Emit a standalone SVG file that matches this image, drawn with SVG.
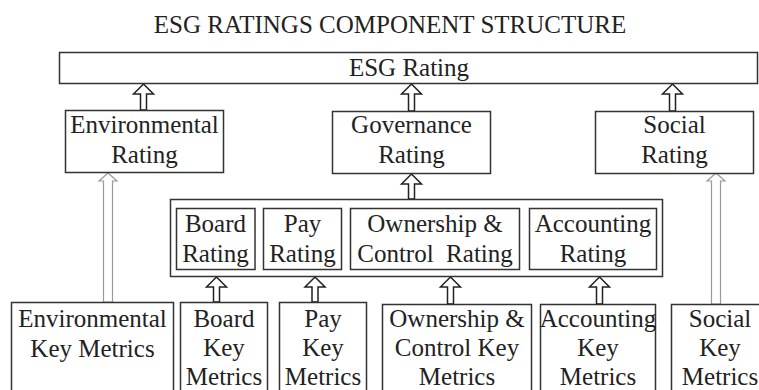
<svg xmlns="http://www.w3.org/2000/svg" width="759" height="390" viewBox="0 0 759 390">
<style>
text{font-family:"Liberation Serif","Times New Roman",serif;font-size:25px;fill:#222;text-anchor:middle}
.box{fill:#fff;stroke:#333;stroke-width:1.5}
.arr{fill:#fff;stroke:#222;stroke-width:1.5;stroke-linejoin:miter}
.larr{fill:#fff;stroke:#999;stroke-width:1.2}
</style>
<rect width="759" height="390" fill="#fff"/>
<text x="390" y="33">ESG RATINGS COMPONENT STRUCTURE</text>

<g id="connectors">
<polygon class="arr" points="143.5,84 153.5,94 146.5,94 146.5,110 140.5,110 140.5,94 133.5,94"/>
<polygon class="arr" points="411.5,84 421.5,94 414.5,94 414.5,111 408.5,111 408.5,94 401.5,94"/>
<polygon class="arr" points="672.5,84 682.5,94 675.5,94 675.5,111 669.5,111 669.5,94 662.5,94"/>
<polygon class="arr" points="411.5,174 421.5,184 414.5,184 414.5,199 408.5,199 408.5,184 401.5,184"/>
<polygon class="arr" points="216.5,277 226.5,287 219.5,287 219.5,302 213.5,302 213.5,287 206.5,287"/>
<polygon class="arr" points="315,277 325,287 318,287 318,302 312,302 312,287 305,287"/>
<polygon class="arr" points="450.5,277 460.5,287 453.5,287 453.5,304 447.5,304 447.5,287 440.5,287"/>
<polygon class="arr" points="599.5,277 609.5,287 602.5,287 602.5,304 596.5,304 596.5,287 589.5,287"/>
<polygon class="larr" points="108,173 117,181 112.5,181 112.5,302 103.5,302 103.5,181 99,181"/>
<polygon class="larr" points="716,173 725,181 720.5,181 720.5,304 711.5,304 711.5,181 707,181"/>
</g>

<g id="esg-rating"><rect class="box" x="59.5" y="52.5" width="698" height="31"/><text x="409" y="76">ESG Rating</text></g>
<g id="env-rating"><rect class="box" x="65.5" y="110.5" width="158" height="62"/><text x="144.5" y="133">Environmental</text><text x="144.5" y="163">Rating</text></g>
<g id="gov-rating"><rect class="box" x="332.5" y="111.5" width="158" height="62"/><text x="411.5" y="133">Governance</text><text x="411.5" y="163">Rating</text></g>
<g id="soc-rating"><rect class="box" x="595.5" y="111.5" width="158" height="62"/><text x="674.5" y="133">Social</text><text x="674.5" y="163">Rating</text></g>

<g id="gov-group"><rect class="box" x="170.5" y="199.5" width="492" height="77"/></g>
<g id="board-rating"><rect class="box" x="176.5" y="208.5" width="78.5" height="61"/><text x="215.5" y="232">Board</text><text x="215.5" y="262">Rating</text></g>
<g id="pay-rating"><rect class="box" x="263.5" y="208.5" width="78" height="61"/><text x="302.5" y="232">Pay</text><text x="302.5" y="262">Rating</text></g>
<g id="own-rating"><rect class="box" x="350.5" y="208.5" width="169" height="61"/><text x="435" y="232">Ownership &amp;</text><text x="435" y="262" style="white-space:pre">Control  Rating</text></g>
<g id="acc-rating"><rect class="box" x="529.5" y="208.5" width="127" height="61"/><text x="593" y="232">Accounting</text><text x="593" y="262">Rating</text></g>

<g id="env-key"><rect class="box" x="11.5" y="302.5" width="162" height="100"/><text x="92.5" y="327">Environmental</text><text x="92.5" y="357">Key Metrics</text></g>
<g id="board-key"><rect class="box" x="180.5" y="302.5" width="87" height="100"/><text x="224" y="327">Board</text><text x="224" y="356">Key</text><text x="224" y="385">Metrics</text></g>
<g id="pay-key"><rect class="box" x="279.5" y="302.5" width="87" height="100"/><text x="323" y="327">Pay</text><text x="323" y="356">Key</text><text x="323" y="385">Metrics</text></g>
<g id="own-key"><rect class="box" x="382.5" y="304.5" width="149" height="100"/><text x="457" y="327">Ownership &amp;</text><text x="457" y="356">Control Key</text><text x="457" y="385">Metrics</text></g>
<g id="acc-key"><rect class="box" x="540.5" y="304.5" width="115" height="100"/><text x="598" y="327">Accounting</text><text x="598" y="356">Key</text><text x="598" y="385">Metrics</text></g>
<g id="soc-key"><rect class="box" x="671.5" y="304.5" width="100" height="100"/><text x="720" y="327">Social</text><text x="720" y="356">Key</text><text x="720" y="385">Metrics</text></g>
</svg>
